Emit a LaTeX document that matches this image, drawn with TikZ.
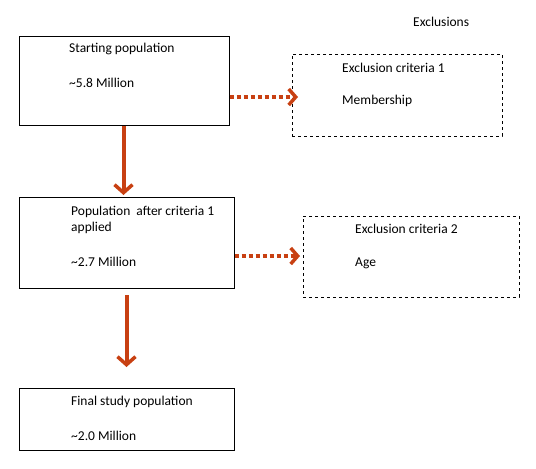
\documentclass[tikz,border=0pt]{standalone}
\usepackage{fontspec}
\setmainfont{Carlito}
\usetikzlibrary{arrows.meta}
\definecolor{arr}{RGB}{200,64,18}
\begin{document}
\begin{tikzpicture}[x=1pt,y=-1pt,
  box/.style={draw,line width=1pt,minimum width=#1,inner sep=0pt},
  txt/.style={anchor=west,inner sep=0pt,font=\fontsize{13.5pt}{16pt}\selectfont},
  solidarr/.style={draw=arr,line width=4pt,-{Straight Barb[length=8pt,width=18pt,line width=3.5pt]}},
  dotarr/.style={draw=arr,line width=4pt,dash pattern=on 4pt off 3pt,-{Straight Barb[length=7pt,width=16pt,line width=3.5pt]}}]
\useasboundingbox (0,0) rectangle (536,469);
% boxes
\node[box=210pt,minimum height=89pt] (b1) at (124,80.5) {};
\node[box=210pt,minimum height=82pt,dashed] (e1) at (397,95) {};
\node[box=215pt,minimum height=91pt] (b2) at (126.5,242.5) {};
\node[box=216pt,minimum height=81pt,dashed] (e2) at (411,256.5) {};
\node[box=215pt,minimum height=62pt] (b3) at (126.5,419) {};
% texts
\node[txt] (tex) at (413,22) {Exclusions};
\node[txt] (t1a) at (69,49) {Starting population};
\node[txt] (t1b) at (69,83) {\textasciitilde5.8 Million};
\node[txt] (te1a) at (342,68) {Exclusion criteria 1};
\node[txt] (te1b) at (342,101) {Membership};
\node[txt] (t2a) at (71,212) {Population\ \ after criteria 1};
\node[txt] (t2b) at (71,228) {applied};
\node[txt] (t2c) at (71,262) {\textasciitilde2.7 Million};
\node[txt] (te2a) at (355,229) {Exclusion criteria 2};
\node[txt] (te2b) at (355,263) {Age};
\node[txt] (t3a) at (71,402) {Final study population};
\node[txt] (t3b) at (71,436) {\textasciitilde2.0 Million};
% connectors
\coordinate (a1e) at (123.5,195);
\coordinate (a2s) at (126.5,295);
\coordinate (a2e) at (126.5,367);
\coordinate (d1s) at (b1.east |- 0,97);
\coordinate (d1e) at (298,97);
\coordinate (d2s) at (b2.east |- 0,256);
\coordinate (d2e) at (300,256);
\draw[solidarr] (b1.south -| a1e) -- (a1e);
\draw[solidarr] (a2s) -- (a2e);
\draw[dotarr] (d1s) -- (d1e);
\draw[dotarr] (d2s) -- (d2e);
\end{tikzpicture}
\end{document}
